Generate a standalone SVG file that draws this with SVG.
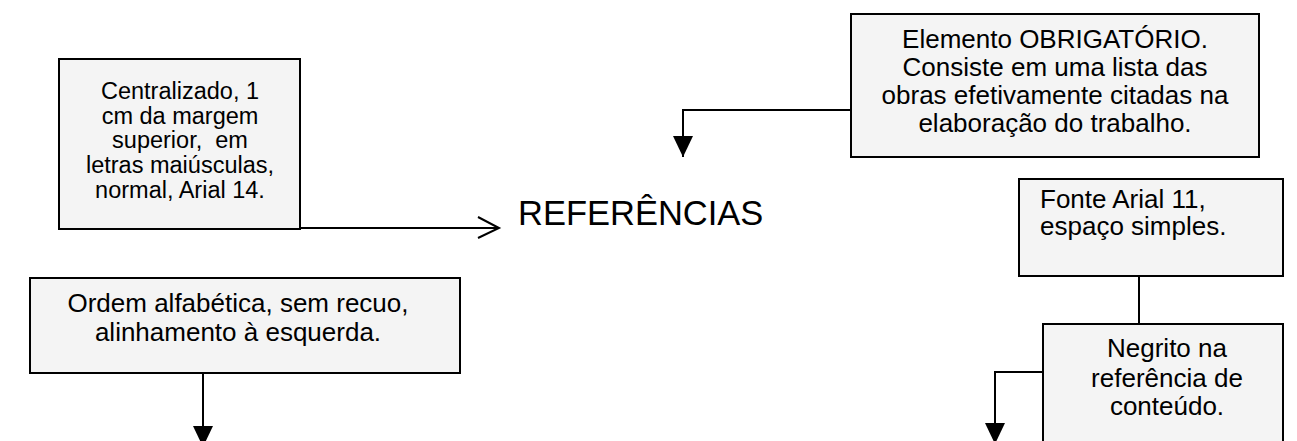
<svg xmlns="http://www.w3.org/2000/svg" width="1297" height="441" viewBox="0 0 1297 441">
<style>
.box{fill:#f4f4f4;stroke:#000;stroke-width:2}
.t{font-family:"Liberation Sans",Arial,sans-serif;fill:#000;font-size:26px}
.c{text-anchor:middle}
.ln{fill:none;stroke:#000;stroke-width:2}
</style>
<defs>
<marker id="tri" markerWidth="20" markerHeight="22" refX="10" refY="21" orient="0" markerUnits="userSpaceOnUse" viewBox="0 0 20 22">
<path d="M0,0 L20,0 L10,21 Z" fill="#000"/>
</marker>
</defs>
<g id="connectors">
<path class="ln" d="M300,228 H499"/>
<path class="ln" d="M478,217 L499,228 L478,238"/>
<path class="ln" d="M851,110 H683 V157" marker-end="url(#tri)"/>
<path class="ln" d="M1139,276 V324"/>
<path class="ln" d="M1043,372 H995 V444" marker-end="url(#tri)"/>
<path class="ln" d="M203,373 V447" marker-end="url(#tri)"/>
</g>
<g id="node-centralizado">
<rect class="box" x="59" y="59" width="241" height="170"/>
<text class="t c" style="font-size:23.5px" x="180" xml:space="preserve"><tspan x="180" y="99">Centralizado, 1</tspan><tspan x="180" y="124">cm da margem</tspan><tspan x="180" y="148">superior,  em</tspan><tspan x="180" y="173">letras maiúsculas,</tspan><tspan x="180" y="198">normal, Arial 14.</tspan></text>
</g>
<g id="node-elemento">
<rect class="box" x="851" y="14" width="408" height="143"/>
<text class="t c"><tspan x="1055" y="48">Elemento OBRIGATÓRIO.</tspan><tspan x="1055" y="76">Consiste em uma lista das</tspan><tspan x="1055" y="104">obras efetivamente citadas na</tspan><tspan x="1055" y="132">elaboração do trabalho.</tspan></text>
</g>
<g id="node-title">
<text class="t" style="font-size:34.5px" x="518" y="225">REFERÊNCIAS</text>
</g>
<g id="node-fonte">
<rect class="box" x="1019" y="179" width="264" height="97"/>
<text class="t"><tspan x="1040" y="208">Fonte Arial 11,</tspan><tspan x="1040" y="235">espaço simples.</tspan></text>
</g>
<g id="node-negrito">
<rect class="box" x="1043" y="324" width="240" height="130"/>
<text class="t c"><tspan x="1167" y="357">Negrito na</tspan><tspan x="1167" y="387">referência de</tspan><tspan x="1167" y="415">conteúdo.</tspan></text>
</g>
<g id="node-ordem">
<rect class="box" x="30" y="278" width="430" height="95"/>
<text class="t c"><tspan x="238" y="312">Ordem alfabética, sem recuo,</tspan><tspan x="238" y="341">alinhamento à esquerda.</tspan></text>
</g>
</svg>
